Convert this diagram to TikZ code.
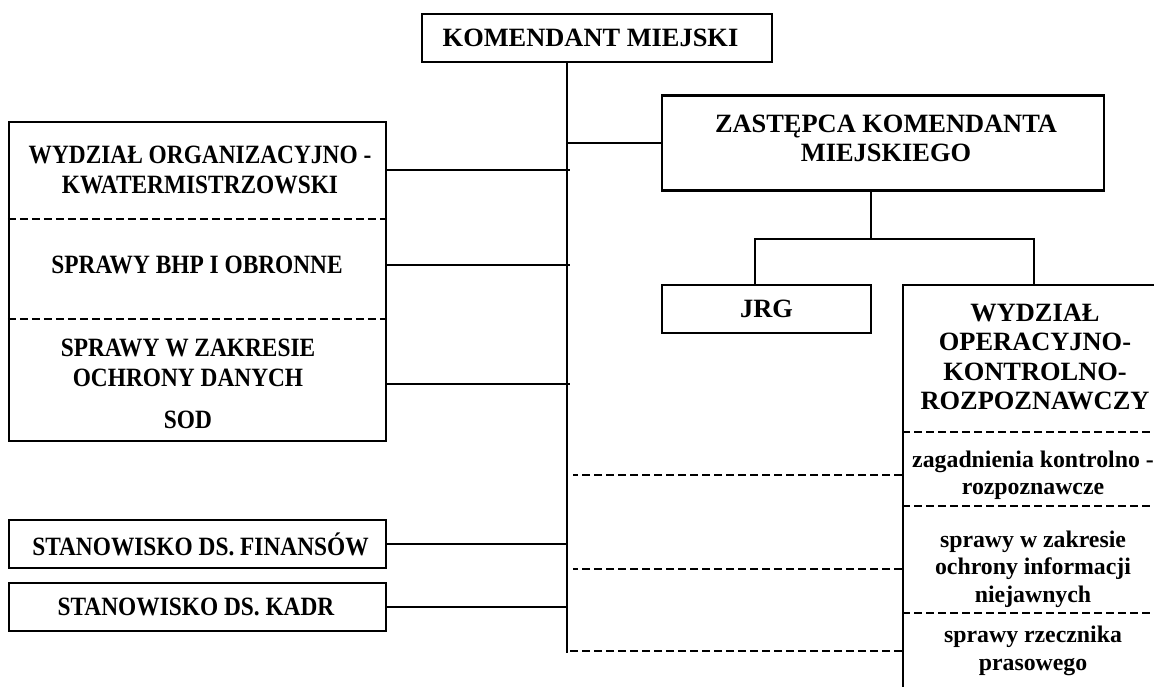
\documentclass[tikz,border=0pt]{standalone}
\usepackage{fontspec}
\setmainfont{Liberation Serif}
\newfontfamily\waska[FakeStretch=0.885]{Liberation Serif}
\usepackage{tikz}
\usetikzlibrary{positioning,calc}
\tikzset{
  ramka/.style={draw, line width=1.1pt, inner sep=0pt},
  duzy/.style={font=\bfseries\fontsize{13.2}{14.6}\selectfont, align=center, inner sep=0pt},
  waski/.style={font=\waska\bfseries\fontsize{13.2}{14.9}\selectfont, align=center, inner sep=0pt},
  maly/.style={font=\bfseries\fontsize{11.9}{13.7}\selectfont, align=center, inner sep=0pt},
  linia/.style={line width=1.1pt},
  przerywana/.style={line width=1.1pt, dash pattern=on 4pt off 2pt}
}

\begin{document}
\begin{tikzpicture}[x=0.5pt,y=-0.5pt]
  \useasboundingbox (0,0) rectangle (1154,686);
  \clip (0,0) rectangle (1154,686);

  \node[ramka, minimum width=175pt, minimum height=24pt] (kom) at (597,38) {};
  \node[duzy] (komtxt) at (590.5,38) {KOMENDANT MIEJSKI};
  \node[ramka, minimum width=221pt, minimum height=47.5pt] (zast) at (883,143) {};
  \node[duzy] (zasttxt) at (886,138) {ZASTĘPCA KOMENDANTA\\MIEJSKIEGO};
  \node[ramka, duzy, minimum width=104.5pt, minimum height=24pt] (jrg) at (766.5,309) {JRG};

  \node[ramka, minimum width=188.5pt, minimum height=159.5pt] (wydzorg) at (197.5,281.5) {};
  \node[waski] (kwater) at (200,170) {WYDZIAŁ ORGANIZACYJNO -\\KWATERMISTRZOWSKI};
  \node[waski] (bhp) at (197,265) {SPRAWY BHP I OBRONNE};
  \node[waski] (sod) at (188,384) {SPRAWY W ZAKRESIE\\OCHRONY DANYCH\\[6pt]SOD};
  \foreach \yy in {219,319}
    \draw[przerywana] (wydzorg.west |- 0,\yy) -- (wydzorg.east |- 0,\yy);

  \node[ramka, minimum width=188.5pt, minimum height=24pt] (finanse) at (197.5,544) {};
  \node[waski] (finansetxt) at (200.5,544) {STANOWISKO DS. FINANSÓW};
  \node[ramka, minimum width=188.5pt, minimum height=24pt] (kadry) at (197.5,607) {};
  \node[waski] (kadrytxt) at (196,607) {STANOWISKO DS. KADR};

  \node[ramka, minimum width=131pt, minimum height=218pt, anchor=north west] (wydzop) at (902,284) {};
  \node[duzy] (opkontr) at (1035,357) {WYDZIAŁ\\OPERACYJNO-\\KONTROLNO-\\ROZPOZNAWCZY};
  \node[maly] (zagad) at (1033,475) {zagadnienia kontrolno -\\rozpoznawcze};
  \node[maly] (ochrinf) at (1033,569) {sprawy w zakresie\\ochrony informacji\\niejawnych};
  \node[maly] (rzecz) at (1033,651) {sprawy rzecznika\\prasowego};
  \foreach \yy in {432,506,613}
    \draw[przerywana] (wydzop.west |- 0,\yy) -- (wydzop.east |- 0,\yy);

  % pion glowny
  \coordinate (pion) at ([xshift=-15pt]kom.south);
  \coordinate (pionkoniec) at (567,653);
  \draw[linia] (pion) -- (pionkoniec);
  \draw[linia] (zast.west) -- (zast.west -| pion);
  \draw[linia] (kwater -| wydzorg.east) -- ([xshift=1.5pt]kwater -| pion);
  \draw[linia] (bhp -| wydzorg.east) -- ([xshift=1.5pt]bhp -| pion);
  \draw[linia] (sod -| wydzorg.east) -- ([xshift=1.5pt]sod -| pion);
  \draw[linia] (finanse.east) -- (finanse.east -| pion);
  \draw[linia] (kadry.east) -- (kadry.east -| pion);

  \draw[przerywana] (wydzop.west |- zagad) -- ([xshift=3pt]pion |- zagad);
  \draw[przerywana] (wydzop.west |- ochrinf) -- ([xshift=3pt]pion |- ochrinf);
  \draw[przerywana] (wydzop.west |- rzecz) -- (pion |- rzecz);

  \draw[linia] ([xshift=-6pt]zast.south) -- ++(0,47) coordinate (rozw);
  \draw[linia] ([xshift=-5.75pt]jrg.north) |- (rozw) -| (wydzop.north);
\end{tikzpicture}
\end{document}
